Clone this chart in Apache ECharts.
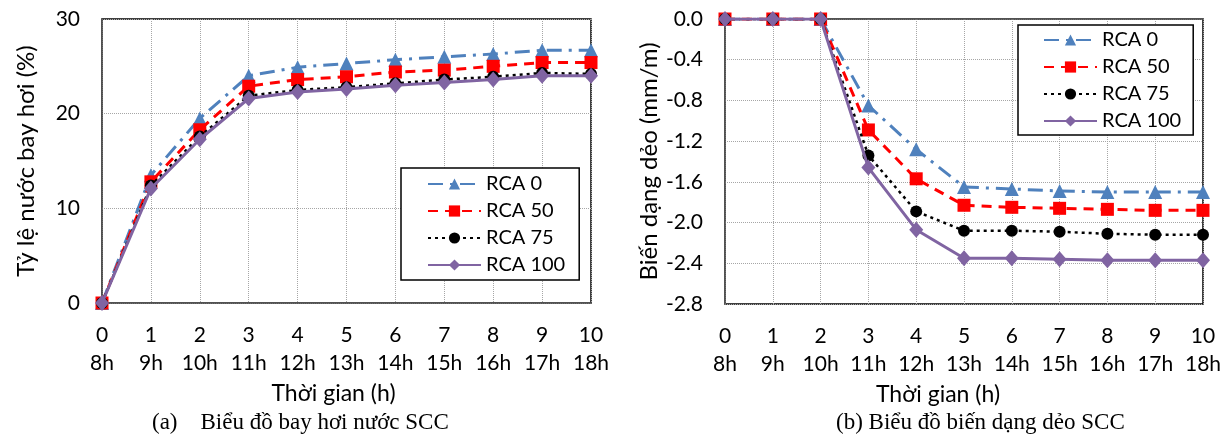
<!DOCTYPE html>
<html>
<head>
<meta charset="utf-8">
<script src="https://cdn.jsdelivr.net/npm/echarts@6/dist/echarts.min.js"></script>
<style>
html,body{margin:0;padding:0;background:#fff;}
#c{width:1229px;height:436px;}
</style>
</head>
<body>
<div id="c"></div>
<script>
// ---- data ----
const stepLabels = ['0','1','2','3','4','5','6','7','8','9','10'];
const hourLabels = ['8h','9h','10h','11h','12h','13h','14h','15h','16h','17h','18h'];
const seriesNames = ['RCA 0','RCA 50','RCA 75','RCA 100'];

// (a) evaporation rate (%)
const evapRCA0   = [0, 13.5, 19.5, 24.0, 24.9, 25.3, 25.7, 26.0, 26.3, 26.7, 26.7];
const evapRCA50  = [0, 12.8, 18.3, 22.9, 23.6, 23.9, 24.4, 24.6, 25.0, 25.4, 25.4];
const evapRCA75  = [0, 12.4, 17.6, 21.9, 22.5, 22.8, 23.2, 23.6, 23.9, 24.3, 24.2];
const evapRCA100 = [0, 12.1, 17.3, 21.6, 22.3, 22.6, 23.0, 23.3, 23.6, 24.0, 24.0];

// (b) plastic shrinkage strain (mm/m)
const strainRCA0   = [0, 0, 0, -0.85, -1.28, -1.65, -1.67, -1.69, -1.70, -1.70, -1.70];
const strainRCA50  = [0, 0, 0, -1.09, -1.57, -1.83, -1.85, -1.86, -1.87, -1.88, -1.88];
const strainRCA75  = [0, 0, 0, -1.34, -1.89, -2.08, -2.08, -2.09, -2.11, -2.12, -2.12];
const strainRCA100 = [0, 0, 0, -1.46, -2.07, -2.35, -2.35, -2.36, -2.37, -2.37, -2.37];

const titleA = '(a)    Biểu đồ bay hơi nước SCC';
const titleB = '(b) Biểu đồ biến dạng dẻo SCC';
const yNameA = 'Tỷ lệ nước bay hơi (%)';
const yNameB = 'Biến dạng dẻo (mm/m)';
const xName = 'Thời gian (h)';

// ---- styles ----
const FONT = 'Lato';
const FS = 21;
const FSN = 24;
const styles = [
  {color:'#4F81BD', type:[15,7,3,7], width:3, symbol:'triangle', size:14},
  {color:'#FF0000', type:[10,7], width:3, symbol:'rect', size:13},
  {color:'#000000', type:[3,4], width:2.5, symbol:'circle', size:12},
  {color:'#8064A2', type:'solid', width:3, symbol:'diamond', size:[14,16]}
];

function mkSeries(data, idx, gi){
  const s = styles[idx];
  return {
    name: seriesNames[idx], type:'line', xAxisIndex:gi, yAxisIndex:gi,
    data: data, symbol: s.symbol, symbolSize: s.size, showAllSymbol:true,
    lineStyle:{color:s.color, type:s.type, width:s.width},
    itemStyle:{color:s.color, borderWidth:0},
    emphasis:{disabled:true}, animation:false, z: 2+idx
  };
}

function xAxisCfg(gi, padRight){
  return {
    type:'category', gridIndex:gi, data: stepLabels, boundaryGap:false,
    axisLine:{lineStyle:{color:'#595959', width:1.5}},
    axisTick:{show:false},
    splitLine:{show:true, lineStyle:{color:'#a6a6a6', type:'dotted', width:1}},
    axisLabel:{
      color:'#000', fontFamily:FONT, fontSize:FS, margin:18, lineHeight:28,
      formatter:(v, i)=> v + '\n' + hourLabels[i]
    },
    name: xName, nameLocation:'middle', nameGap:71,
    nameTextStyle:{color:'#000', fontFamily:FONT, fontSize:23, padding:[0,padRight,0,0]}
  };
}

function legendCfg(left, top, pad){
  return {data:seriesNames, orient:'vertical', left:left, top:top,
    backgroundColor:'#fff', borderColor:'#000', borderWidth:1.5,
    padding:pad, itemWidth:53, itemHeight:14, itemGap:7,
    textStyle:{color:'#000', fontFamily:FONT, fontSize:20}, selectedMode:false};
}

const chart = echarts.init(document.getElementById('c'), null, {renderer:'canvas'});
chart.setOption({
  animation:false,
  backgroundColor:'#fff',
  grid:[
    {left:102, top:19, width:489, height:284, show:true, borderColor:'#000', borderWidth:1.5, containLabel:false},
    {left:725, top:19, width:478, height:285, show:true, borderColor:'#000', borderWidth:1.5, containLabel:false}
  ],
  xAxis:[xAxisCfg(0, 26), xAxisCfg(1, 52)],
  yAxis:[
    {type:'value', gridIndex:0, min:0, max:30, interval:10,
     axisLine:{show:true, lineStyle:{color:'#595959', width:1.5}}, axisTick:{show:false},
     splitLine:{lineStyle:{color:'#a6a6a6', type:'dotted', width:1}},
     axisLabel:{color:'#000', fontFamily:FONT, fontSize:FS, margin:22},
     name:yNameA, nameLocation:'middle', nameGap:64, nameRotate:90,
     nameTextStyle:{color:'#000', fontFamily:FONT, fontSize:FSN}},
    {type:'value', gridIndex:1, min:-2.8, max:0, interval:0.4,
     axisLine:{show:true, lineStyle:{color:'#595959', width:1.5}}, axisTick:{show:false},
     splitLine:{lineStyle:{color:'#a6a6a6', type:'dotted', width:1}},
     axisLabel:{color:'#000', fontFamily:FONT, fontSize:FS, margin:22,
       formatter:v=>{ const r = Math.round(v*10)/10; return (Math.abs(r)<1e-9?0:r).toFixed(1); }},
     name:yNameB, nameLocation:'middle', nameGap:64, nameRotate:90,
     nameTextStyle:{color:'#000', fontFamily:FONT, fontSize:FSN}}
  ],
  legend:[
    legendCfg(401, 168, [6,14,5,26]),
    legendCfg(1018, 25, [5,12,4,25])
  ],
  graphic:[
    {type:'text', left:152, top:411, style:{text:titleA, font:'23px "Liberation Serif"', fill:'#000'}},
    {type:'text', left:836, top:411, style:{text:titleB, font:'23px "Liberation Serif"', fill:'#000'}}
  ],
  series:[
    mkSeries(evapRCA0,0,0), mkSeries(evapRCA50,1,0), mkSeries(evapRCA75,2,0), mkSeries(evapRCA100,3,0),
    mkSeries(strainRCA0,0,1), mkSeries(strainRCA50,1,1), mkSeries(strainRCA75,2,1), mkSeries(strainRCA100,3,1)
  ]
});
</script>
</body>
</html>
